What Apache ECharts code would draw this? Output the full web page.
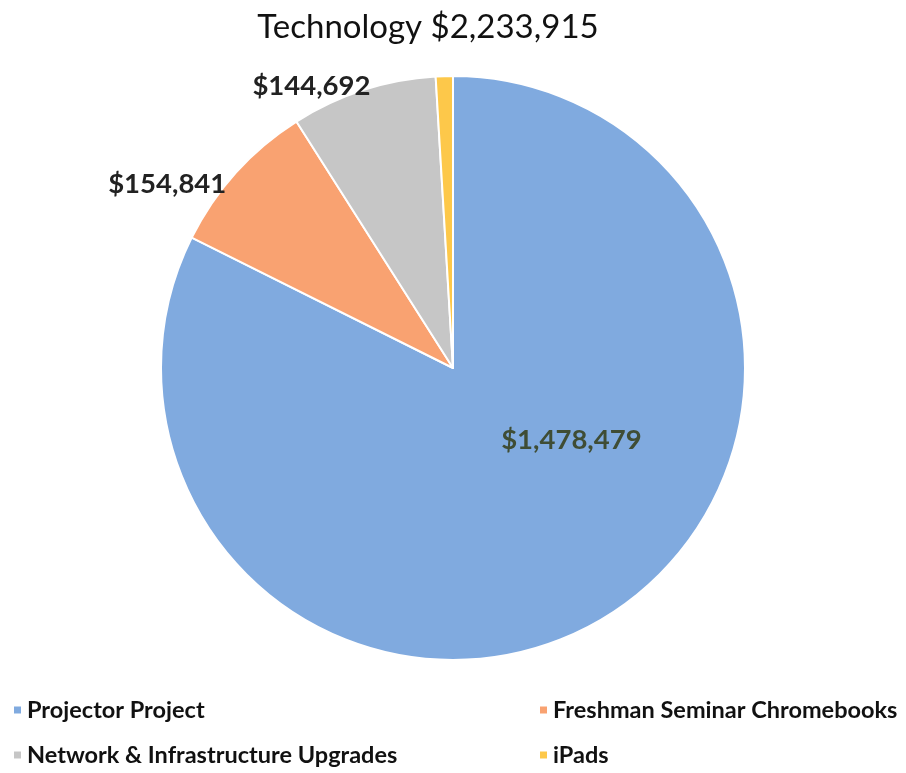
<!DOCTYPE html>
<html>
<head>
<meta charset="utf-8">
<script src="https://cdn.jsdelivr.net/npm/echarts@6/dist/echarts.min.js"></script>
<style>
  html, body { margin: 0; padding: 0; background: #fff; }
  #chart { width: 906px; height: 773px; }
</style>
</head>
<body>
<div id="chart"></div>
<script>
// Technology budget breakdown
const titleText = 'Technology $2,233,915';
const categories = ['Projector Project', 'Freshman Seminar Chromebooks', 'Network & Infrastructure Upgrades', 'iPads'];
const amounts = [1478479, 154841, 144692, 17000];
const showLabel = [true, true, true, false];
const sliceColors = ['#80aadf', '#f9a271', '#c6c6c6', '#fdc84a'];

const money = v => '$' + v.toLocaleString('en-US');

// per-slice label placement tweaks (offsets from the library's default spot)
const labelShift = [
  { dx: 40, dy: -55 },
  { dx: 4, dy: 20 },
  { dx: 16, dy: 7 }
];

const legendText = { fontFamily: 'Lato', fontSize: 23.5, fontWeight: 'bold', color: '#111' };

const chart = echarts.init(document.getElementById('chart'));
chart.setOption({
  backgroundColor: '#ffffff',
  animation: false,
  title: {
    text: titleText,
    left: 423,
    textAlign: 'center',
    top: 6,
    textStyle: { fontFamily: 'Lato', fontSize: 33, fontWeight: 'normal', color: '#111' }
  },
  legend: [
    {
      data: [categories[0], categories[2]],
      orient: 'vertical', left: 7, top: 693, itemGap: 21,
      icon: 'rect', itemWidth: 9, itemHeight: 9,
      textStyle: legendText
    },
    {
      data: [categories[1], categories[3]],
      orient: 'vertical', left: 533, top: 693, itemGap: 21,
      icon: 'rect', itemWidth: 9, itemHeight: 9,
      textStyle: legendText
    }
  ],
  series: [{
    type: 'pie',
    center: [453, 368],
    radius: 292,
    startAngle: 90,
    clockwise: true,
    itemStyle: { borderColor: '#ffffff', borderWidth: 2 },
    labelLine: { show: false, length: 12, length2: 0 },
    labelLayout: p => labelShift[p.dataIndex] || {},
    data: categories.map((name, i) => ({
      name,
      value: amounts[i],
      itemStyle: { color: sliceColors[i] },
      label: {
        show: showLabel[i],
        position: i === 0 ? 'inside' : 'outside',
        formatter: p => money(p.value),
        fontFamily: 'Lato', fontSize: 27.5, fontWeight: 'bold',
        color: i === 0 ? '#3f4d35' : '#222'
      }
    }))
  }]
});
</script>
</body>
</html>
